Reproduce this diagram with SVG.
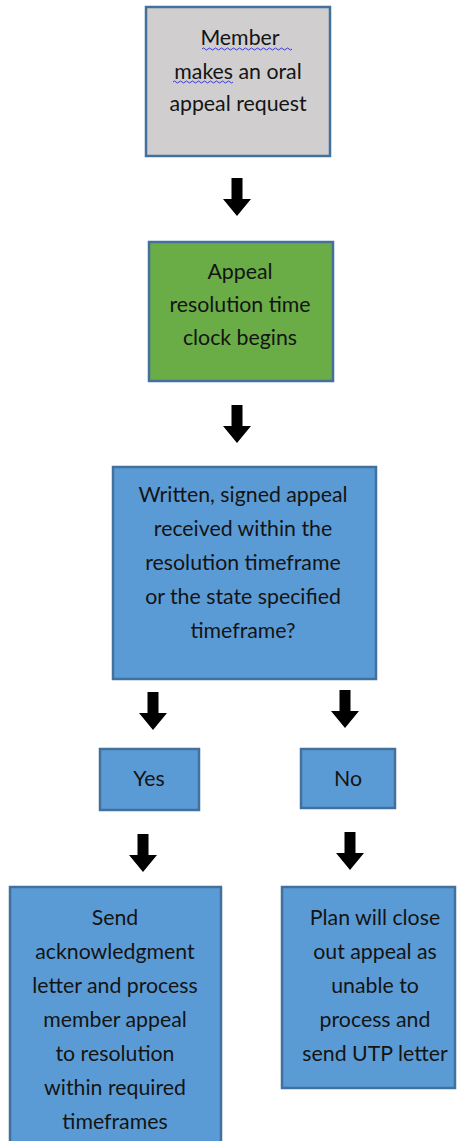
<svg xmlns="http://www.w3.org/2000/svg" width="457" height="1141" viewBox="0 0 457 1141">
<style>
.box{stroke:#41719c;stroke-width:2.5}
.grey{fill:#d0cece}
.green{fill:#6aac46}
.blue{fill:#5b9bd5}
text{font-family:Lato,"Open Sans","Liberation Sans",sans-serif;font-size:21.3px;fill:#141414;text-anchor:middle}
.arrow{fill:#000}
.squig{fill:none;stroke:#3a3ad0;stroke-width:1}
</style>
<defs>
<path id="arr" d="M-5.5,-38 H5.5 V-17 H14 L0,0 L-14,-17 H-5.5 Z"/>
</defs>
<rect width="457" height="1141" fill="#fff"/>
<g id="connectors" class="arrow">
<use href="#arr" x="237" y="216"/>
<use href="#arr" x="237" y="443"/>
<use href="#arr" x="153" y="730"/>
<use href="#arr" x="345" y="728"/>
<use href="#arr" x="143" y="872"/>
<use href="#arr" x="350" y="870"/>
</g>
<g id="n1">
<rect class="box grey" x="146" y="7" width="184" height="149"/>
<text x="240" y="45">Member</text>
<text x="238" y="79">makes an oral</text>
<text x="238" y="111">appeal request</text>
<path class="squig" d="M202,49 q1.5,-2 3,0 t3,0 t3,0 t3,0 t3,0 t3,0 t3,0 t3,0 t3,0 t3,0 t3,0 t3,0 t3,0 t3,0 t3,0 t3,0 t3,0 t3,0 t3,0 t3,0 t3,0 t3,0 t3,0 t3,0 t3,0 t3,0 t3,0 t3,0 t3,0 t3,0"/>
<path class="squig" d="M173,82 q1.5,-2 3,0 t3,0 t3,0 t3,0 t3,0 t3,0 t3,0 t3,0 t3,0 t3,0 t3,0 t3,0 t3,0 t3,0 t3,0 t3,0 t3,0 t3,0 t3,0 t3,0"/>
</g>
<g id="n2">
<rect class="box green" x="149" y="242" width="184" height="139"/>
<text x="240" y="279">Appeal</text>
<text x="240" y="312">resolution time</text>
<text x="240" y="345">clock begins</text>
</g>
<g id="n3">
<rect class="box blue" x="113" y="467" width="263" height="212"/>
<text x="243" y="502">Written, signed appeal</text>
<text x="243" y="536">received within the</text>
<text x="243" y="570">resolution timeframe</text>
<text x="243" y="604">or the state specified</text>
<text x="243" y="638">timeframe?</text>
</g>
<g id="n4">
<rect class="box blue" x="100" y="749" width="99" height="61"/>
<text x="149" y="786">Yes</text>
</g>
<g id="n5">
<rect class="box blue" x="301" y="749" width="94" height="59"/>
<text x="348" y="786">No</text>
</g>
<g id="n6">
<rect class="box blue" x="10" y="887" width="211" height="260"/>
<text x="115" y="925">Send</text>
<text x="115" y="959">acknowledgment</text>
<text x="115" y="993">letter and process</text>
<text x="115" y="1027">member appeal</text>
<text x="115" y="1061">to resolution</text>
<text x="115" y="1095">within required</text>
<text x="115" y="1129">timeframes</text>
</g>
<g id="n7">
<rect class="box blue" x="282" y="887" width="173" height="201"/>
<text x="375" y="925">Plan will close</text>
<text x="375" y="959">out appeal as</text>
<text x="375" y="993">unable to</text>
<text x="375" y="1027">process and</text>
<text x="375" y="1061">send UTP letter</text>
</g>
</svg>
